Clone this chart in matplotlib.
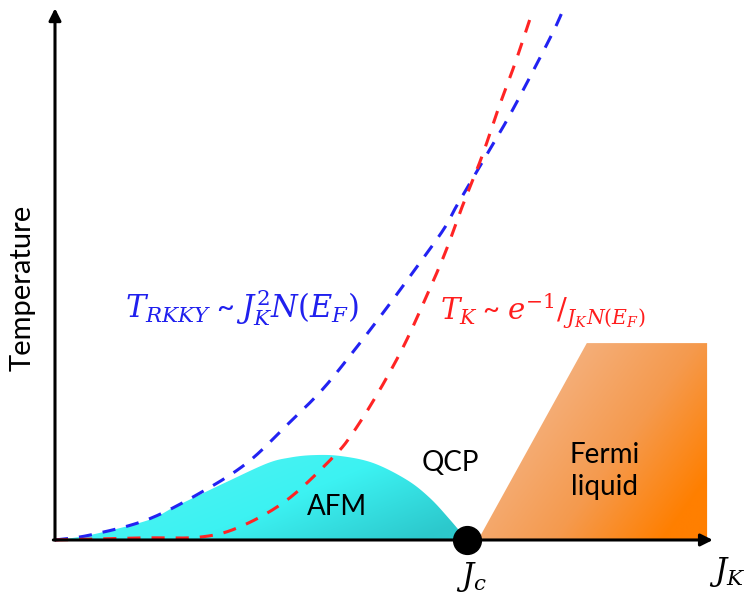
import numpy as np
import matplotlib
matplotlib.use('Agg')
import matplotlib.pyplot as plt
from matplotlib.patches import Polygon
from matplotlib.colors import LinearSegmentedColormap

plt.rcParams['font.family'] = ['Lato', 'DejaVu Sans']
plt.rcParams['mathtext.fontset'] = 'dejavuserif'

# coupling J_K in units of J_c, temperature in the same scale
J_RKKY = [0, 0.085, 0.223, 0.352, 0.466, 0.563, 0.648, 0.723, 0.796, 0.869,
          0.942, 0.976, 1.036, 1.097, 1.153, 1.209, 1.233]
T_RKKY = [0, 0.012, 0.049, 0.114, 0.187, 0.279, 0.364, 0.456, 0.551, 0.650,
          0.752, 0.813, 0.915, 1.019, 1.124, 1.233, 1.286]

J_KONDO = [0, 0.206, 0.352, 0.449, 0.563, 0.675, 0.723, 0.784, 0.845, 0.898,
           0.947, 0.988, 1.036, 1.075, 1.117, 1.160]
T_KONDO = [0, 0.005, 0.007, 0.032, 0.097, 0.201, 0.260, 0.357, 0.468, 0.583,
           0.697, 0.808, 0.930, 1.044, 1.158, 1.286]

# antiferromagnetic dome
J_AFM = [0, 0.085, 0.223, 0.286, 0.352, 0.417, 0.515, 0.570, 0.626, 0.692,
         0.772, 0.854, 0.910, 0.959, 1.0]
T_AFM = [0, 0.012, 0.047, 0.078, 0.110, 0.141, 0.186, 0.200, 0.206, 0.204,
         0.187, 0.146, 0.102, 0.049, 0]

# Fermi liquid region
J_FL = [1.027, 1.291, 1.583, 1.583]
T_FL = [0, 0.478, 0.478, 0]

J_C = 1.0
J_MAX = 1.597
T_MAX = 1.291

fig = plt.figure(figsize=(7.45, 5.96), dpi=100)
ax = fig.add_axes([0, 0, 1, 1])
ax.set_axis_off()


def smooth(xs, ys, n=16):
    # catmull-rom through the given points, only for drawing
    p = np.c_[xs, ys].astype(float)
    p = np.vstack([p[0], p, p[-1]])
    out = []
    s = np.linspace(0, 1, n, endpoint=False)[:, None]
    for i in range(1, len(p) - 2):
        p0, p1, p2, p3 = p[i - 1], p[i], p[i + 1], p[i + 2]
        out.append(0.5 * (2 * p1 + (-p0 + p2) * s
                          + (2 * p0 - 5 * p1 + 4 * p2 - p3) * s ** 2
                          + (-p0 + 3 * p1 - 3 * p2 + p3) * s ** 3))
    out.append(p[-2][None, :])
    out = np.vstack(out)
    return out[:, 0], out[:, 1]


def gradient_fill(xs, ys, colors, func, zorder):
    poly = Polygon(np.c_[xs, ys], closed=True, facecolor='none', edgecolor='none')
    ax.add_patch(poly)
    x0, x1, y0, y1 = min(xs), max(xs), min(ys), max(ys)
    gx, gy = np.meshgrid(np.linspace(0, 1, 300), np.linspace(0, 1, 200))
    t = np.clip(func(gx, gy), 0, 1)
    cmap = LinearSegmentedColormap.from_list('g', colors)
    im = ax.imshow(t, extent=[x0, x1, y0, y1], origin='lower', cmap=cmap,
                   vmin=0, vmax=1, aspect='auto', interpolation='bilinear',
                   zorder=zorder)
    im.set_clip_path(poly)


gradient_fill(*smooth(J_AFM, T_AFM), ['#4EF4F4', '#3CF2F2', '#2CC8CC'],
              lambda u, v: 0.9 * u + 0.45 * (1 - v) - 0.25, 1)
gradient_fill(J_FL, T_FL, ['#F4AE78', '#F59A4E', '#FF7F00'],
              lambda u, v: 1.05 * (u - 0.475) + 0.65 * (1 - v), 1)

ax.plot(*smooth(J_RKKY, T_RKKY), color='#2222F2', lw=2.2, dashes=(4.3, 3.6),
        zorder=3)
ax.plot(*smooth(J_KONDO, T_KONDO), color='#FF2424', lw=2.2, dashes=(4.3, 3.6),
        zorder=3)

arrow = dict(arrowstyle='-|>', lw=2.2, color='black', mutation_scale=18,
             shrinkA=0, shrinkB=0)
ax.annotate('', xy=(0, T_MAX), xytext=(0, 0), arrowprops=arrow, zorder=4)
ax.annotate('', xy=(J_MAX, 0), xytext=(-0.004, 0), arrowprops=arrow, zorder=4)
ax.plot([J_C], [0], 'o', color='black', markersize=20, zorder=5)

ax.text(-0.078, 0.612, 'Temperature', rotation=90, ha='center', va='center',
        fontsize=21)
ax.text(0.684, 0.080, 'AFM', ha='center', va='center', fontsize=20)
ax.text(0.959, 0.187, 'QCP', ha='center', va='center', fontsize=20)
ax.text(1.335, 0.167, 'Fermi\nliquid', ha='center', va='center', fontsize=20,
        linespacing=1.3)
ax.text(1.012, -0.090, r'$J_c$', ha='center', va='center', fontsize=22)
ax.text(1.631, -0.078, r'$J_K$', ha='center', va='center', fontsize=22)

ax.text(0.170, 0.541, r'$T_{RKKY}$ ~ $J_K^2N(E_F)$', ha='left', va='baseline',
        fontsize=22, color='#2020EE')
ax.text(0.934, 0.534, r'$T_K$ ~ $e^{-1}/_{J_KN(E_F)}$', ha='left', va='baseline',
        fontsize=21, color='#FF1E1E')

ax.set_xlim(-0.1335, 1.675)
ax.set_ylim(-0.136, 1.311)

fig.savefig('out.png', dpi=100)
